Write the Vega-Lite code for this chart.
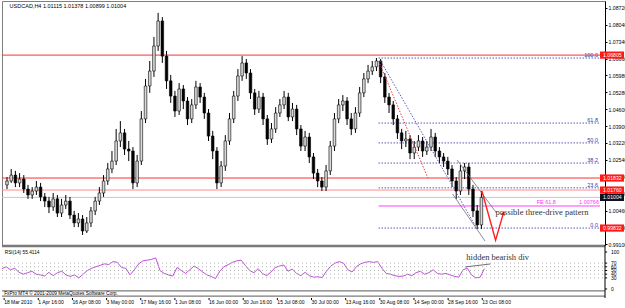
{
  "$schema": "https://vega.github.io/schema/vega-lite/v6.json",
  "padding": 0,
  "spacing": 0,
  "bounds": "flush",
  "background": "white",
  "config": {
    "view": {"stroke": "#7f7f7f", "strokeWidth": 1},
    "font": "Liberation Sans",
    "axis": {"labelFont": "Liberation Sans", "labelColor": "black", "tickColor": "black", "domainColor": "black", "grid": false}
  },
  "datasets": {
    "bars": [
      {"b":0,"o":1.0151,"h":1.0183,"l":1.0134,"c":1.0167,"r":55},
      {"b":8,"o":1.0167,"h":1.0216,"l":1.0159,"c":1.0191,"r":60},
      {"b":16,"o":1.0191,"h":1.0208,"l":1.0142,"c":1.0159,"r":52},
      {"b":24,"o":1.0159,"h":1.0199,"l":1.0142,"c":1.0175,"r":56},
      {"b":32,"o":1.0175,"h":1.0191,"l":1.0118,"c":1.0134,"r":45},
      {"b":40,"o":1.0134,"h":1.0151,"l":1.0094,"c":1.0110,"r":40},
      {"b":48,"o":1.0110,"h":1.0142,"l":1.0094,"c":1.0126,"r":44},
      {"b":56,"o":1.0126,"h":1.0167,"l":1.0110,"c":1.0142,"r":48},
      {"b":64,"o":1.0142,"h":1.0159,"l":1.0085,"c":1.0102,"r":40},
      {"b":72,"o":1.0102,"h":1.0118,"l":1.0061,"c":1.0085,"r":38},
      {"b":80,"o":1.0085,"h":1.0102,"l":1.0036,"c":1.0061,"r":35},
      {"b":88,"o":1.0061,"h":1.0118,"l":1.0045,"c":1.0094,"r":45},
      {"b":96,"o":1.0094,"h":1.0110,"l":1.0020,"c":1.0036,"r":36},
      {"b":104,"o":1.0036,"h":1.0094,"l":1.0020,"c":1.0069,"r":44},
      {"b":112,"o":1.0069,"h":1.0110,"l":1.0053,"c":1.0085,"r":48},
      {"b":120,"o":1.0085,"h":1.0102,"l":1.0012,"c":1.0028,"r":38},
      {"b":128,"o":1.0028,"h":1.0045,"l":0.9979,"c":0.9996,"r":34},
      {"b":136,"o":0.9996,"h":1.0036,"l":0.9979,"c":1.0012,"r":38},
      {"b":144,"o":1.0012,"h":1.0028,"l":0.9947,"c":0.9963,"r":30},
      {"b":152,"o":0.9963,"h":1.0020,"l":0.9955,"c":0.9996,"r":40},
      {"b":160,"o":0.9996,"h":1.0061,"l":0.9979,"c":1.0045,"r":50},
      {"b":168,"o":1.0045,"h":1.0102,"l":1.0028,"c":1.0085,"r":56},
      {"b":176,"o":1.0085,"h":1.0142,"l":1.0069,"c":1.0118,"r":60},
      {"b":184,"o":1.0118,"h":1.0191,"l":1.0102,"c":1.0167,"r":64},
      {"b":192,"o":1.0167,"h":1.0240,"l":1.0151,"c":1.0216,"r":68},
      {"b":200,"o":1.0216,"h":1.0289,"l":1.0199,"c":1.0248,"r":66},
      {"b":208,"o":1.0248,"h":1.0379,"l":1.0232,"c":1.0330,"r":74},
      {"b":216,"o":1.0330,"h":1.0411,"l":1.0305,"c":1.0363,"r":72},
      {"b":224,"o":1.0363,"h":1.0379,"l":1.0273,"c":1.0297,"r":58},
      {"b":232,"o":1.0297,"h":1.0330,"l":1.0248,"c":1.0289,"r":56},
      {"b":240,"o":1.0289,"h":1.0305,"l":1.0134,"c":1.0159,"r":38},
      {"b":248,"o":1.0159,"h":1.0273,"l":1.0142,"c":1.0248,"r":52},
      {"b":256,"o":1.0248,"h":1.0452,"l":1.0232,"c":1.0420,"r":68},
      {"b":264,"o":1.0420,"h":1.0583,"l":1.0403,"c":1.0554,"r":76},
      {"b":272,"o":1.0554,"h":1.0656,"l":1.0526,"c":1.0615,"r":78},
      {"b":280,"o":1.0615,"h":1.0754,"l":1.0591,"c":1.0717,"r":80},
      {"b":288,"o":1.0717,"h":1.0852,"l":1.0697,"c":1.0819,"r":84},
      {"b":296,"o":1.0819,"h":1.0835,"l":1.0648,"c":1.0676,"r":50},
      {"b":304,"o":1.0676,"h":1.0697,"l":1.0542,"c":1.0575,"r":42},
      {"b":312,"o":1.0575,"h":1.0599,"l":1.0485,"c":1.0513,"r":38},
      {"b":320,"o":1.0513,"h":1.0534,"l":1.0428,"c":1.0452,"r":35},
      {"b":328,"o":1.0452,"h":1.0566,"l":1.0436,"c":1.0542,"r":58},
      {"b":336,"o":1.0542,"h":1.0558,"l":1.0460,"c":1.0493,"r":50},
      {"b":344,"o":1.0493,"h":1.0509,"l":1.0395,"c":1.0420,"r":42},
      {"b":352,"o":1.0420,"h":1.0501,"l":1.0403,"c":1.0477,"r":52},
      {"b":360,"o":1.0477,"h":1.0575,"l":1.0460,"c":1.0550,"r":62},
      {"b":368,"o":1.0550,"h":1.0566,"l":1.0485,"c":1.0509,"r":55},
      {"b":376,"o":1.0509,"h":1.0526,"l":1.0420,"c":1.0444,"r":46},
      {"b":384,"o":1.0444,"h":1.0460,"l":1.0330,"c":1.0350,"r":38},
      {"b":392,"o":1.0350,"h":1.0371,"l":1.0256,"c":1.0289,"r":34},
      {"b":400,"o":1.0289,"h":1.0305,"l":1.0134,"c":1.0159,"r":28},
      {"b":408,"o":1.0159,"h":1.0248,"l":1.0142,"c":1.0228,"r":48},
      {"b":416,"o":1.0228,"h":1.0354,"l":1.0208,"c":1.0330,"r":60},
      {"b":424,"o":1.0330,"h":1.0444,"l":1.0314,"c":1.0420,"r":66},
      {"b":432,"o":1.0420,"h":1.0534,"l":1.0403,"c":1.0513,"r":72},
      {"b":440,"o":1.0513,"h":1.0623,"l":1.0493,"c":1.0595,"r":76},
      {"b":448,"o":1.0595,"h":1.0676,"l":1.0575,"c":1.0648,"r":78},
      {"b":456,"o":1.0648,"h":1.0664,"l":1.0583,"c":1.0607,"r":64},
      {"b":464,"o":1.0607,"h":1.0623,"l":1.0501,"c":1.0526,"r":50},
      {"b":472,"o":1.0526,"h":1.0542,"l":1.0436,"c":1.0460,"r":44},
      {"b":480,"o":1.0460,"h":1.0534,"l":1.0444,"c":1.0509,"r":55},
      {"b":488,"o":1.0509,"h":1.0526,"l":1.0395,"c":1.0420,"r":42},
      {"b":496,"o":1.0420,"h":1.0436,"l":1.0314,"c":1.0338,"r":36},
      {"b":504,"o":1.0338,"h":1.0403,"l":1.0322,"c":1.0379,"r":46},
      {"b":512,"o":1.0379,"h":1.0468,"l":1.0363,"c":1.0444,"r":58},
      {"b":520,"o":1.0444,"h":1.0501,"l":1.0428,"c":1.0477,"r":62},
      {"b":528,"o":1.0477,"h":1.0534,"l":1.0460,"c":1.0509,"r":65},
      {"b":536,"o":1.0509,"h":1.0526,"l":1.0411,"c":1.0428,"r":48},
      {"b":544,"o":1.0428,"h":1.0485,"l":1.0411,"c":1.0460,"r":54},
      {"b":552,"o":1.0460,"h":1.0477,"l":1.0354,"c":1.0379,"r":42},
      {"b":560,"o":1.0379,"h":1.0395,"l":1.0289,"c":1.0309,"r":36},
      {"b":568,"o":1.0309,"h":1.0371,"l":1.0289,"c":1.0346,"r":45},
      {"b":576,"o":1.0346,"h":1.0363,"l":1.0240,"c":1.0265,"r":36},
      {"b":584,"o":1.0265,"h":1.0281,"l":1.0175,"c":1.0199,"r":32},
      {"b":592,"o":1.0199,"h":1.0216,"l":1.0142,"c":1.0167,"r":33},
      {"b":600,"o":1.0167,"h":1.0183,"l":1.0126,"c":1.0142,"r":31},
      {"b":608,"o":1.0142,"h":1.0232,"l":1.0126,"c":1.0208,"r":48},
      {"b":616,"o":1.0208,"h":1.0330,"l":1.0191,"c":1.0309,"r":62},
      {"b":624,"o":1.0309,"h":1.0444,"l":1.0289,"c":1.0420,"r":70},
      {"b":632,"o":1.0420,"h":1.0501,"l":1.0403,"c":1.0477,"r":74},
      {"b":640,"o":1.0477,"h":1.0517,"l":1.0452,"c":1.0493,"r":70},
      {"b":648,"o":1.0493,"h":1.0509,"l":1.0395,"c":1.0420,"r":52},
      {"b":656,"o":1.0420,"h":1.0444,"l":1.0354,"c":1.0379,"r":46},
      {"b":664,"o":1.0379,"h":1.0468,"l":1.0363,"c":1.0444,"r":60},
      {"b":672,"o":1.0444,"h":1.0550,"l":1.0428,"c":1.0526,"r":68},
      {"b":680,"o":1.0526,"h":1.0607,"l":1.0509,"c":1.0583,"r":72},
      {"b":688,"o":1.0583,"h":1.0640,"l":1.0566,"c":1.0615,"r":74},
      {"b":696,"o":1.0615,"h":1.0656,"l":1.0599,"c":1.0632,"r":72},
      {"b":704,"o":1.0632,"h":1.0668,"l":1.0615,"c":1.0656,"r":74},
      {"b":712,"o":1.0656,"h":1.0664,"l":1.0566,"c":1.0591,"r":56},
      {"b":720,"o":1.0591,"h":1.0607,"l":1.0485,"c":1.0509,"r":42},
      {"b":728,"o":1.0509,"h":1.0526,"l":1.0444,"c":1.0477,"r":40},
      {"b":736,"o":1.0477,"h":1.0493,"l":1.0395,"c":1.0420,"r":36},
      {"b":744,"o":1.0420,"h":1.0436,"l":1.0338,"c":1.0363,"r":34},
      {"b":752,"o":1.0363,"h":1.0379,"l":1.0297,"c":1.0330,"r":35},
      {"b":760,"o":1.0330,"h":1.0371,"l":1.0305,"c":1.0338,"r":40},
      {"b":768,"o":1.0338,"h":1.0354,"l":1.0256,"c":1.0281,"r":36},
      {"b":776,"o":1.0281,"h":1.0330,"l":1.0256,"c":1.0305,"r":44},
      {"b":784,"o":1.0305,"h":1.0354,"l":1.0289,"c":1.0330,"r":48},
      {"b":792,"o":1.0330,"h":1.0346,"l":1.0265,"c":1.0289,"r":40},
      {"b":800,"o":1.0289,"h":1.0330,"l":1.0273,"c":1.0305,"r":44},
      {"b":808,"o":1.0305,"h":1.0379,"l":1.0289,"c":1.0346,"r":52},
      {"b":816,"o":1.0346,"h":1.0363,"l":1.0265,"c":1.0289,"r":42},
      {"b":824,"o":1.0289,"h":1.0305,"l":1.0240,"c":1.0265,"r":40},
      {"b":832,"o":1.0265,"h":1.0281,"l":1.0224,"c":1.0248,"r":42},
      {"b":840,"o":1.0248,"h":1.0265,"l":1.0191,"c":1.0216,"r":38},
      {"b":848,"o":1.0216,"h":1.0232,"l":1.0142,"c":1.0167,"r":34},
      {"b":856,"o":1.0167,"h":1.0183,"l":1.0094,"c":1.0126,"r":32},
      {"b":864,"o":1.0126,"h":1.0232,"l":1.0110,"c":1.0208,"r":52},
      {"b":872,"o":1.0208,"h":1.0240,"l":1.0175,"c":1.0224,"r":56},
      {"b":880,"o":1.0224,"h":1.0240,"l":1.0110,"c":1.0134,"r":38},
      {"b":888,"o":1.0134,"h":1.0151,"l":1.0020,"c":1.0045,"r":30},
      {"b":896,"o":1.0045,"h":1.0069,"l":0.9971,"c":0.9988,"r":32},
      {"b":904,"o":0.9988,"h":1.0126,"l":0.9971,"c":1.0100,"r":55}
    ],
    "fib": [
      {"lvl":"100.0","p":1.0668,"b0":708,"b1":1130},
      {"lvl":"61.8","p":1.0403,"b0":708,"b1":1130},
      {"lvl":"50.0","p":1.0322,"b0":708,"b1":1130},
      {"lvl":"38.2","p":1.0240,"b0":708,"b1":1130},
      {"lvl":"23.6","p":1.0139,"b0":708,"b1":1130},
      {"lvl":"0.0","p":0.9975,"b0":708,"b1":1130}
    ],
    "dates": [
      {"b":4,"t":"18 Mar 2010"},{"b":68,"t":"1 Apr 16:00"},{"b":132,"t":"16 Apr 08:00"},{"b":196,"t":"3 May 00:00"},
      {"b":260,"t":"17 May 16:00"},{"b":324,"t":"1 Jun 08:00"},{"b":388,"t":"16 Jun 00:00"},{"b":452,"t":"30 Jun 16:00"},
      {"b":516,"t":"15 Jul 08:00"},{"b":580,"t":"30 Jul 00:00"},{"b":644,"t":"13 Aug 16:00"},{"b":708,"t":"30 Aug 08:00"},
      {"b":772,"t":"14 Sep 00:00"},{"b":836,"t":"28 Sep 16:00"},{"b":900,"t":"13 Oct 08:00"}
    ],
    "rsiticks": [
      {"r":100,"t":"100"},{"r":70,"t":"70"},{"r":60,"t":"60"},{"r":50,"t":"50"},{"r":40,"t":"40"},{"r":30,"t":"30"},{"r":0,"t":"0"}
    ]
  },
  "vconcat": [
    {
      "width": 603,
      "height": 244,
      "encoding": {
        "x": {"field": "b", "type": "quantitative", "title": null, "scale": {"domain": [0, 1130], "nice": false, "zero": false}, "axis": null},
        "y": {"field": "p", "type": "quantitative", "title": null, "scale": {"domain": [0.9906, 1.09005], "nice": false, "zero": false},
          "axis": {"orient": "right", "values": [1.0872,1.0804,1.0734,1.0666,1.0598,1.0528,1.0460,1.0390,1.0322,1.0254,1.0184,1.0116,1.0046,0.9978,0.9910],
            "labelExpr": "format(datum.value, '.5f')", "labelFontSize": 5.2, "tickSize": 2, "labelPadding": 1, "labelOverlap": false, "labelFlush": false, "title": null}}
      },
      "layer": [
        {
          "data": {"values": [{"p":1.0680},{"p":1.0179}]},
          "mark": {"type": "rule", "color": "#ff3030", "strokeWidth": 1},
          "encoding": {"x": {"value": 0}, "x2": {"value": 603}}
        },
        {
          "data": {"values": [{"p":1.0130}]},
          "mark": {"type": "rule", "color": "#ff8c8c", "strokeWidth": 1},
          "encoding": {"x": {"value": 0}, "x2": {"value": 603}}
        },
        {
          "data": {"values": [{"p":1.0100}]},
          "mark": {"type": "rule", "color": "#c8c8c8", "strokeWidth": 1},
          "encoding": {"x": {"value": 0}, "x2": {"value": 603}}
        },
        {
          "data": {"name": "fib"},
          "mark": {"type": "rule", "color": "#5a5ab4", "strokeWidth": 1, "strokeDash": [1.5, 1.5], "clip": true},
          "encoding": {
            "x": {"field": "b0", "type": "quantitative", "title": null, "axis": null},
            "x2": {"field": "b1"}
          }
        },
        {
          "data": {"name": "fib"},
          "mark": {"type": "text", "align": "right", "baseline": "bottom", "dx": -2, "fontSize": 5.5, "color": "#3c3ca0"},
          "encoding": {
            "x": {"field": "b1", "type": "quantitative", "title": null, "axis": null},
            "text": {"field": "lvl"}
          }
        },
        {
          "data": {"values": [{"p":1.0065,"b0":708,"b1":1130}]},
          "mark": {"type": "rule", "color": "#ff40ff", "strokeWidth": 1},
          "encoding": {
            "x": {"field": "b0", "type": "quantitative", "title": null, "axis": null},
            "x2": {"field": "b1"}
          }
        },
        {
          "data": {"values": [{"b":1046,"p":1.0065,"t":"FE 61.8"},{"b":1128,"p":1.0065,"t":"1.00766"}]},
          "mark": {"type": "text", "align": "right", "baseline": "bottom", "dy": -1, "fontSize": 5.5, "color": "#ff30ff"},
          "encoding": {"text": {"field": "t"}}
        },
        {
          "data": {"name": "bars"},
          "mark": {"type": "rule", "color": "black", "strokeWidth": 1, "clip": true},
          "encoding": {
            "y": {"field": "l", "type": "quantitative", "title": null},
            "y2": {"field": "h"}
          }
        },
        {
          "data": {"name": "bars"},
          "mark": {"type": "bar", "size": 2.6, "stroke": "black", "strokeWidth": 0.6, "clip": true},
          "encoding": {
            "y": {"field": "o", "type": "quantitative", "title": null},
            "y2": {"field": "c"},
            "fill": {"condition": {"test": "datum.c < datum.o", "value": "black"}, "value": "#d8d8d8"}
          }
        },
        {
          "data": {"values": [{"b":708,"p":1.0656},{"b":802,"p":1.0179}]},
          "mark": {"type": "line", "color": "#e84040", "strokeWidth": 1, "strokeDash": [1.5, 1.5], "clip": true}
        },
        {
          "data": {"values": [{"b":712,"p":1.0656},{"b":896,"p":0.9971}]},
          "mark": {"type": "line", "color": "#5a5ab4", "strokeWidth": 1, "strokeDash": [1.5, 1.5], "clip": true}
        },
        {
          "data": {"values": [{"g":"u","b":858,"p":1.0252},{"g":"u","b":933,"p":1.0036},{"g":"l","b":849,"p":1.0114},{"g":"l","b":911,"p":0.9922}]},
          "mark": {"type": "line", "color": "#6e6e6e", "strokeWidth": 0.8, "clip": true},
          "encoding": {"detail": {"field": "g"}}
        },
        {
          "data": {"values": [{"s":1,"b":905,"p":1.0126},{"s":2,"b":931,"p":0.9926},{"s":3,"b":946,"p":1.0036}]},
          "mark": {"type": "line", "color": "#ff2020", "strokeWidth": 1.4, "clip": true},
          "encoding": {"order": {"field": "s"}}
        },
        {
          "data": {"values": [{"b":946,"p":1.0036}]},
          "mark": {"type": "point", "shape": "triangle-up", "size": 22, "angle": 17, "filled": true, "color": "#ff2020", "opacity": 1}
        },
        {
          "data": {"values": [{"b":931,"p":1.0040,"t":"possible three-drive pattern"}]},
          "mark": {"type": "text", "align": "left", "baseline": "middle", "font": "Liberation Serif", "fontSize": 8.5, "color": "#333333"},
          "encoding": {"text": {"field": "t"}}
        },
        {
          "data": {"values": [{"b":5,"p":1.0881,"t":"USDCAD,H4  1.01115 1.01378 1.00899 1.01004"}]},
          "mark": {"type": "text", "align": "left", "baseline": "middle", "fontSize": 5.5, "color": "black"},
          "encoding": {"text": {"field": "t"}}
        },
        {
          "data": {"values": [{"b":1130,"p":1.0680},{"b":1130,"p":1.0179},{"b":1130,"p":1.0130},{"b":1130,"p":0.9975}]},
          "mark": {"type": "point", "shape": "M0,-0.3H2V0.3H0Z", "size": 576, "filled": true, "color": "#ff1a1a", "opacity": 1, "clip": false}
        },
        {
          "data": {"values": [{"b":1130,"p":1.0100}]},
          "mark": {"type": "point", "shape": "M0,-0.3H2V0.3H0Z", "size": 576, "filled": true, "color": "#101020", "opacity": 1, "clip": false}
        },
        {
          "data": {"values": [{"b":1130,"p":1.0680,"t":"1.06805"},{"b":1130,"p":1.0179,"t":"1.01832"},{"b":1130,"p":1.0130,"t":"1.01760"},{"b":1130,"p":1.0100,"t":"1.01004"},{"b":1130,"p":0.9975,"t":"0.99832"}]},
          "mark": {"type": "text", "align": "left", "baseline": "middle", "dx": 3, "fontSize": 5.2, "color": "white"},
          "encoding": {"text": {"field": "t"}}
        }
      ]
    },
    {
      "width": 625,
      "height": 64,
      "view": {"stroke": null},
      "layer": [
        {
          "data": {"name": "bars"},
          "mark": {"type": "line", "color": "#c24ee0", "strokeWidth": 1},
          "encoding": {
            "x": {"field": "b", "type": "quantitative", "title": null, "scale": {"domain": [0, 1171.2], "nice": false, "zero": false}, "axis": null},
            "y": {"field": "r", "type": "quantitative", "title": null, "scale": {"domain": [-54.05, 118.9], "nice": false, "zero": false}, "axis": null}
          }
        },
        {
          "data": {"values": [{"r":30},{"r":40},{"r":50},{"r":60},{"r":70}]},
          "mark": {"type": "rule", "color": "#b4b4b4", "strokeWidth": 1, "strokeDash": [1, 3]},
          "encoding": {
            "x": {"datum": 0, "type": "quantitative", "axis": null},
            "x2": {"datum": 1130},
            "y": {"field": "r", "type": "quantitative", "title": null, "axis": null}
          }
        },
        {
          "data": {"values": [{"r":117.5},{"r":114.5},{"r":-5},{"r":-19.5}]},
          "mark": {"type": "rule", "color": "#7a7a7a", "strokeWidth": 1.3},
          "encoding": {
            "x": {"datum": 0, "type": "quantitative", "axis": null},
            "x2": {"datum": 1130},
            "y": {"field": "r", "type": "quantitative", "title": null, "axis": null}
          }
        },
        {
          "data": {"values": [{"r0":118.9,"r1":-24.3}]},
          "mark": {"type": "rule", "color": "black", "strokeWidth": 1},
          "encoding": {
            "x": {"datum": 1130, "type": "quantitative", "axis": null},
            "y": {"field": "r0", "type": "quantitative", "title": null, "axis": null},
            "y2": {"field": "r1"}
          }
        },
        {
          "data": {"values": [{"b":4,"r":-12.3,"t":"FxPro MT4  © 2001-2009 MetaQuotes Software Corp."},{"b":5,"r":96,"t":"RSI(14) 55.4114"}]},
          "mark": {"type": "text", "align": "left", "baseline": "middle", "fontSize": 4.8, "color": "black"},
          "encoding": {
            "x": {"field": "b", "type": "quantitative", "title": null, "axis": null},
            "y": {"field": "r", "type": "quantitative", "title": null, "axis": null},
            "text": {"field": "t"}
          }
        },
        {
          "data": {"values": [{"b":868,"r":59.5},{"b":915,"r":67.6}]},
          "mark": {"type": "line", "color": "#707070", "strokeWidth": 1},
          "encoding": {
            "x": {"field": "b", "type": "quantitative", "title": null, "axis": null},
            "y": {"field": "r", "type": "quantitative", "title": null, "axis": null}
          }
        },
        {
          "data": {"values": [{"b":870,"r":86.5,"t":"hidden bearish div"}]},
          "mark": {"type": "text", "align": "left", "baseline": "middle", "font": "Liberation Serif", "fontSize": 8.5, "color": "#333333"},
          "encoding": {
            "x": {"field": "b", "type": "quantitative", "title": null, "axis": null},
            "y": {"field": "r", "type": "quantitative", "title": null, "axis": null},
            "text": {"field": "t"}
          }
        },
        {
          "data": {"name": "dates"},
          "mark": {"type": "rule", "color": "black", "strokeWidth": 1},
          "encoding": {
            "x": {"field": "b", "type": "quantitative", "title": null, "axis": null},
            "y": {"datum": -24.3, "type": "quantitative", "axis": null},
            "y2": {"datum": -29.7}
          }
        },
        {
          "data": {"name": "dates"},
          "mark": {"type": "text", "align": "left", "baseline": "top", "dy": 1, "fontSize": 5, "color": "black"},
          "encoding": {
            "x": {"field": "b", "type": "quantitative", "title": null, "axis": null},
            "y": {"datum": -26.5, "type": "quantitative", "axis": null},
            "text": {"field": "t"}
          }
        },
        {
          "data": {"name": "rsiticks"},
          "mark": {"type": "rule", "color": "black", "strokeWidth": 1},
          "encoding": {
            "x": {"datum": 1130, "type": "quantitative", "axis": null},
            "x2": {"datum": 1134},
            "y": {"field": "r", "type": "quantitative", "title": null, "axis": null}
          }
        },
        {
          "data": {"name": "rsiticks"},
          "mark": {"type": "text", "align": "left", "baseline": "middle", "dx": 6, "fontSize": 5, "color": "black"},
          "encoding": {
            "x": {"datum": 1130, "type": "quantitative", "axis": null},
            "y": {"field": "r", "type": "quantitative", "title": null, "axis": null},
            "text": {"field": "t"}
          }
        }
      ]
    }
  ]
}
